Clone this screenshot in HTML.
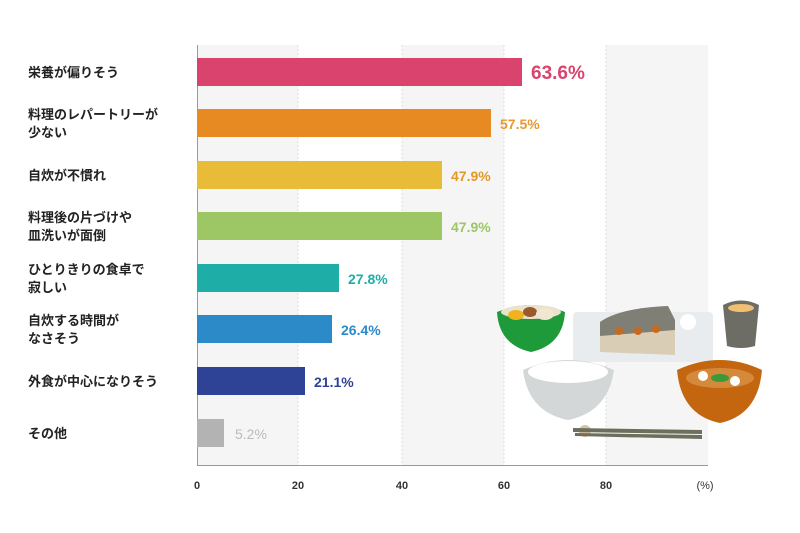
<!DOCTYPE html>
<html><head><meta charset="utf-8"><style>
body{margin:0;background:#fff;}
svg{display:block;font-family:"Liberation Sans","Noto Sans CJK JP",sans-serif;}
</style></head><body>
<svg width="800" height="533" viewBox="0 0 800 533">
<!-- bands -->
<rect x="197" y="45" width="101" height="420" fill="#f5f5f5"/>
<rect x="402" y="45" width="102" height="420" fill="#f5f5f5"/>
<rect x="606" y="45" width="102" height="420" fill="#f5f5f5"/>
<g stroke="#ddd" stroke-dasharray="2,2">
<line x1="298" y1="45" x2="298" y2="465"/><line x1="402" y1="45" x2="402" y2="465"/>
<line x1="504" y1="45" x2="504" y2="465"/><line x1="606" y1="45" x2="606" y2="465"/>
</g>
<line x1="197.5" y1="45" x2="197.5" y2="466" stroke="#999"/>
<line x1="197" y1="465.5" x2="708" y2="465.5" stroke="#999"/>
<g font-size="11" font-weight="bold" fill="#333" text-anchor="middle">
<text x="197" y="489">0</text><text x="298" y="489">20</text><text x="402" y="489">40</text>
<text x="504" y="489">60</text><text x="606" y="489">80</text><text x="705" y="489" font-weight="normal">(%)</text>
</g>
<!-- bars -->
<rect x="197" y="58" width="325" height="28" fill="#d9436e"/>
<rect x="197" y="109" width="294" height="28" fill="#e88a22"/>
<rect x="197" y="161" width="245" height="28" fill="#e8bb39"/>
<rect x="197" y="212" width="245" height="28" fill="#9cc764"/>
<rect x="197" y="264" width="142" height="28" fill="#1fada8"/>
<rect x="197" y="315" width="135" height="28" fill="#2b8ac7"/>
<rect x="197" y="367" width="108" height="28" fill="#2e4396"/>
<rect x="197" y="419" width="27" height="28" fill="#b3b3b3"/>
<g font-weight="bold">
<text x="531" y="79" font-size="19" fill="#d9436e">63.6%</text>
<text x="500" y="129" font-size="14" fill="#e8992e">57.5%</text>
<text x="451" y="181" font-size="14" fill="#e09a2a">47.9%</text>
<text x="451" y="232" font-size="14" fill="#9cc764">47.9%</text>
<text x="348" y="284" font-size="14" fill="#1fada8">27.8%</text>
<text x="341" y="335" font-size="14" fill="#2b8ac7">26.4%</text>
<text x="314" y="387" font-size="14" fill="#2e4396">21.1%</text>
<text x="235" y="439" font-size="14" fill="#bbb" font-weight="normal">5.2%</text>
</g>
<g font-size="13" font-weight="bold" fill="#222">
<text x="28" y="77">栄養が偏りそう</text>
<text x="28" y="119">料理のレパートリーが</text><text x="28" y="137">少ない</text>
<text x="28" y="180">自炊が不慣れ</text>
<text x="28" y="222">料理後の片づけや</text><text x="28" y="240">皿洗いが面倒</text>
<text x="28" y="274">ひとりきりの食卓で</text><text x="28" y="292">寂しい</text>
<text x="28" y="325">自炊する時間が</text><text x="28" y="343">なさそう</text>
<text x="28" y="386">外食が中心になりそう</text>
<text x="28" y="438">その他</text>
</g>
<!-- food -->
<rect x="573" y="312" width="140" height="50" rx="4" fill="#e9ecee"/>
<path d="M600 322 Q620 308 668 306 L675 320 L675 355 L600 352 Z" fill="#d9cdb5"/>
<path d="M600 322 Q620 308 668 306 L675 320 L675 330 L600 336 Z" fill="#7f7f75"/>
<circle cx="619" cy="331" r="4" fill="#c86a1e"/><circle cx="638" cy="331" r="4" fill="#c86a1e"/><circle cx="656" cy="329" r="4" fill="#c86a1e"/>
<circle cx="688" cy="322" r="8" fill="#fff"/>
<path d="M497 312 Q531 298 565 312 Q563 345 531 352 Q499 345 497 312 Z" fill="#1f9a3a"/>
<ellipse cx="531" cy="312" rx="30" ry="7" fill="#e9e2cc"/>
<ellipse cx="516" cy="315" rx="8" ry="5" fill="#f0b320"/><ellipse cx="530" cy="312" rx="7" ry="5" fill="#9a5a2a"/><ellipse cx="545" cy="314" rx="9" ry="6" fill="#f1e6d0"/>
<path d="M723 305 Q741 296 759 305 L755 346 Q741 350 727 346 Z" fill="#6d6d66"/>
<ellipse cx="741" cy="308" rx="13" ry="4" fill="#f0c070"/>
<path d="M523 370 Q568 350 614 370 Q608 412 568 420 Q528 412 523 370 Z" fill="#d4d7d8"/>
<ellipse cx="568" cy="372" rx="40" ry="11" fill="#fff"/>
<path d="M677 370 Q720 350 762 370 Q758 415 720 423 Q681 415 677 370 Z" fill="#c4650f"/>
<ellipse cx="720" cy="378" rx="34" ry="10" fill="#d48a3a"/>
<circle cx="703" cy="376" r="5" fill="#fff"/><circle cx="735" cy="381" r="5" fill="#fff"/>
<ellipse cx="720" cy="378" rx="9" ry="4" fill="#3a9a3a"/>
<circle cx="585" cy="431" r="6" fill="#d8c3a0"/>
<path d="M573 428 L702 430 L702 434 L573 432 Z" fill="#6e6e5c"/>
<path d="M575 433 L702 435 L702 439 L575 436 Z" fill="#6e6e5c"/>
</svg>
</body></html>
